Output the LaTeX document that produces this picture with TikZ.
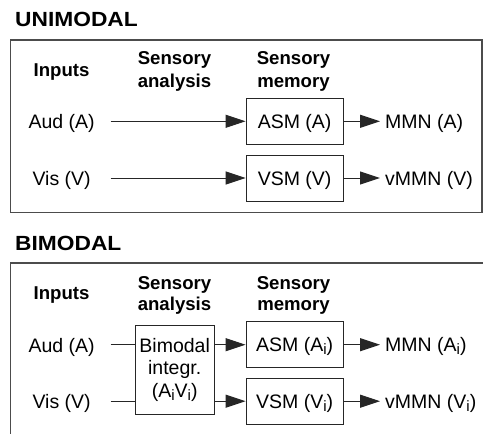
\documentclass[tikz,border=0pt]{standalone}
\usepackage{fontspec}
\setmainfont{Liberation Sans}
\usetikzlibrary{arrows.meta}
\newcommand\subi{\raisebox{-3pt}{\fontsize{15}{15}\selectfont i}}
\begin{document}
\begin{tikzpicture}[x=1pt,y=-1pt,
  txt/.style={inner sep=0pt, anchor=base, font=\fontsize{19.5}{22.7}\selectfont},
  outtxt/.style={inner sep=0pt, anchor=base west, font=\fontsize{19.5}{22.7}\selectfont},
  hdr/.style={inner sep=0pt, align=center, anchor=south, font=\bfseries\fontsize{18.6}{22.7}\selectfont},
  ttl/.style={inner sep=0pt, anchor=base west, font=\bfseries\fontsize{20.5}{24}\selectfont},
  membox/.style={draw=black!85, line width=1pt, minimum width=97pt, minimum height=46pt, inner sep=0pt, text height=14pt, text depth=0pt, font=\fontsize{19.5}{22.7}\selectfont},
  frame/.style={draw=black!70, line width=1.2pt},
  conn/.style={draw=black!85, line width=1pt},
  arr/.style={conn, -{Triangle[length=20pt,width=13pt]}, shorten >=0pt}
]
\useasboundingbox[fill=white] (0,0) rectangle (483,434);

% ---------- UNIMODAL ----------
\node[ttl] (t1) at (15,26.7) {\scalebox{1.11}[1]{UNIMODAL}};
\draw[frame] (10.5,40) rectangle (482,212.5);
\node[txt, font=\bfseries\fontsize{18.6}{22.7}\selectfont] (in1) at (61.6,76) {Inputs};
\node[hdr] (sa1) at (174.5,91.3) {Sensory\\analysis};
\node[hdr] (sm1) at (293.5,91.3) {Sensory\\memory};

\node[txt] (aud1) at (61.6,128) {Aud (A)};
\node[txt] (vis1) at (61.6,185) {Vis (V)};
\coordinate (a1s) at (110.7,121.3);
\coordinate (v1s) at (110.7,178);
\node[membox] (asm1) at (294.6,121.3) {ASM (A)};
\node[membox] (vsm1) at (294.6,178) {VSM (V)};
\node[outtxt] (mmn1) at (385,128.3) {MMN (A)};
\node[outtxt] (vmmn1) at (385,185) {vMMN (V)};

\draw[arr] (a1s) -- (asm1.west);
\draw[arr] (v1s) -- (vsm1.west);
\draw[arr, shorten >=5pt] (asm1.east) -- (asm1.east -| mmn1.west);
\draw[arr, shorten >=5pt] (vsm1.east) -- (vsm1.east -| vmmn1.west);

% ---------- BIMODAL ----------
\node[ttl] (t2) at (15,250) {\scalebox{1.11}[1]{BIMODAL}};
\draw[frame] (483,263) -- (10.5,263) -- (10.5,434);
\node[txt, font=\bfseries\fontsize{18.6}{22.7}\selectfont] (in2) at (61.6,299) {Inputs};
\node[hdr, font=\bfseries\fontsize{18.6}{20.7}\selectfont] (sa2) at (174.5,314.6) {Sensory\\analysis};
\node[hdr, font=\bfseries\fontsize{18.6}{20.7}\selectfont] (sm2) at (293.5,314.6) {Sensory\\memory};

\node[txt] (aud2) at (61.6,352) {Aud (A)};
\node[txt] (vis2) at (61.6,408) {Vis (V)};
\coordinate (a2s) at (110.7,344.7);
\coordinate (v2s) at (110.7,401);
\node[draw=black!85, line width=1pt, minimum width=79.3pt, minimum height=89.3pt, inner sep=0pt, align=center, font=\fontsize{19.5}{22.7}\selectfont] (bi) at (174.7,369.7) {Bimodal\\integr.\\(A\subi V\subi)};
\node[membox] (asm2) at (294.6,344.7) {ASM (A\subi)};
\node[membox] (vsm2) at (294.6,401.2) {VSM (V\subi)};
\node[outtxt] (mmn2) at (385,351.7) {MMN (A\subi)};
\node[outtxt] (vmmn2) at (385,408.2) {vMMN (V\subi)};

\draw[conn] (a2s) -- (a2s -| bi.west);
\draw[conn] (v2s) -- (v2s -| bi.west);
\draw[arr] (bi.east |- asm2.west) -- (asm2.west);
\draw[arr] (bi.east |- vsm2.west) -- (vsm2.west);
\draw[arr, shorten >=5pt] (asm2.east) -- (asm2.east -| mmn2.west);
\draw[arr, shorten >=5pt] (vsm2.east) -- (vsm2.east -| vmmn2.west);
\end{tikzpicture}
\end{document}
